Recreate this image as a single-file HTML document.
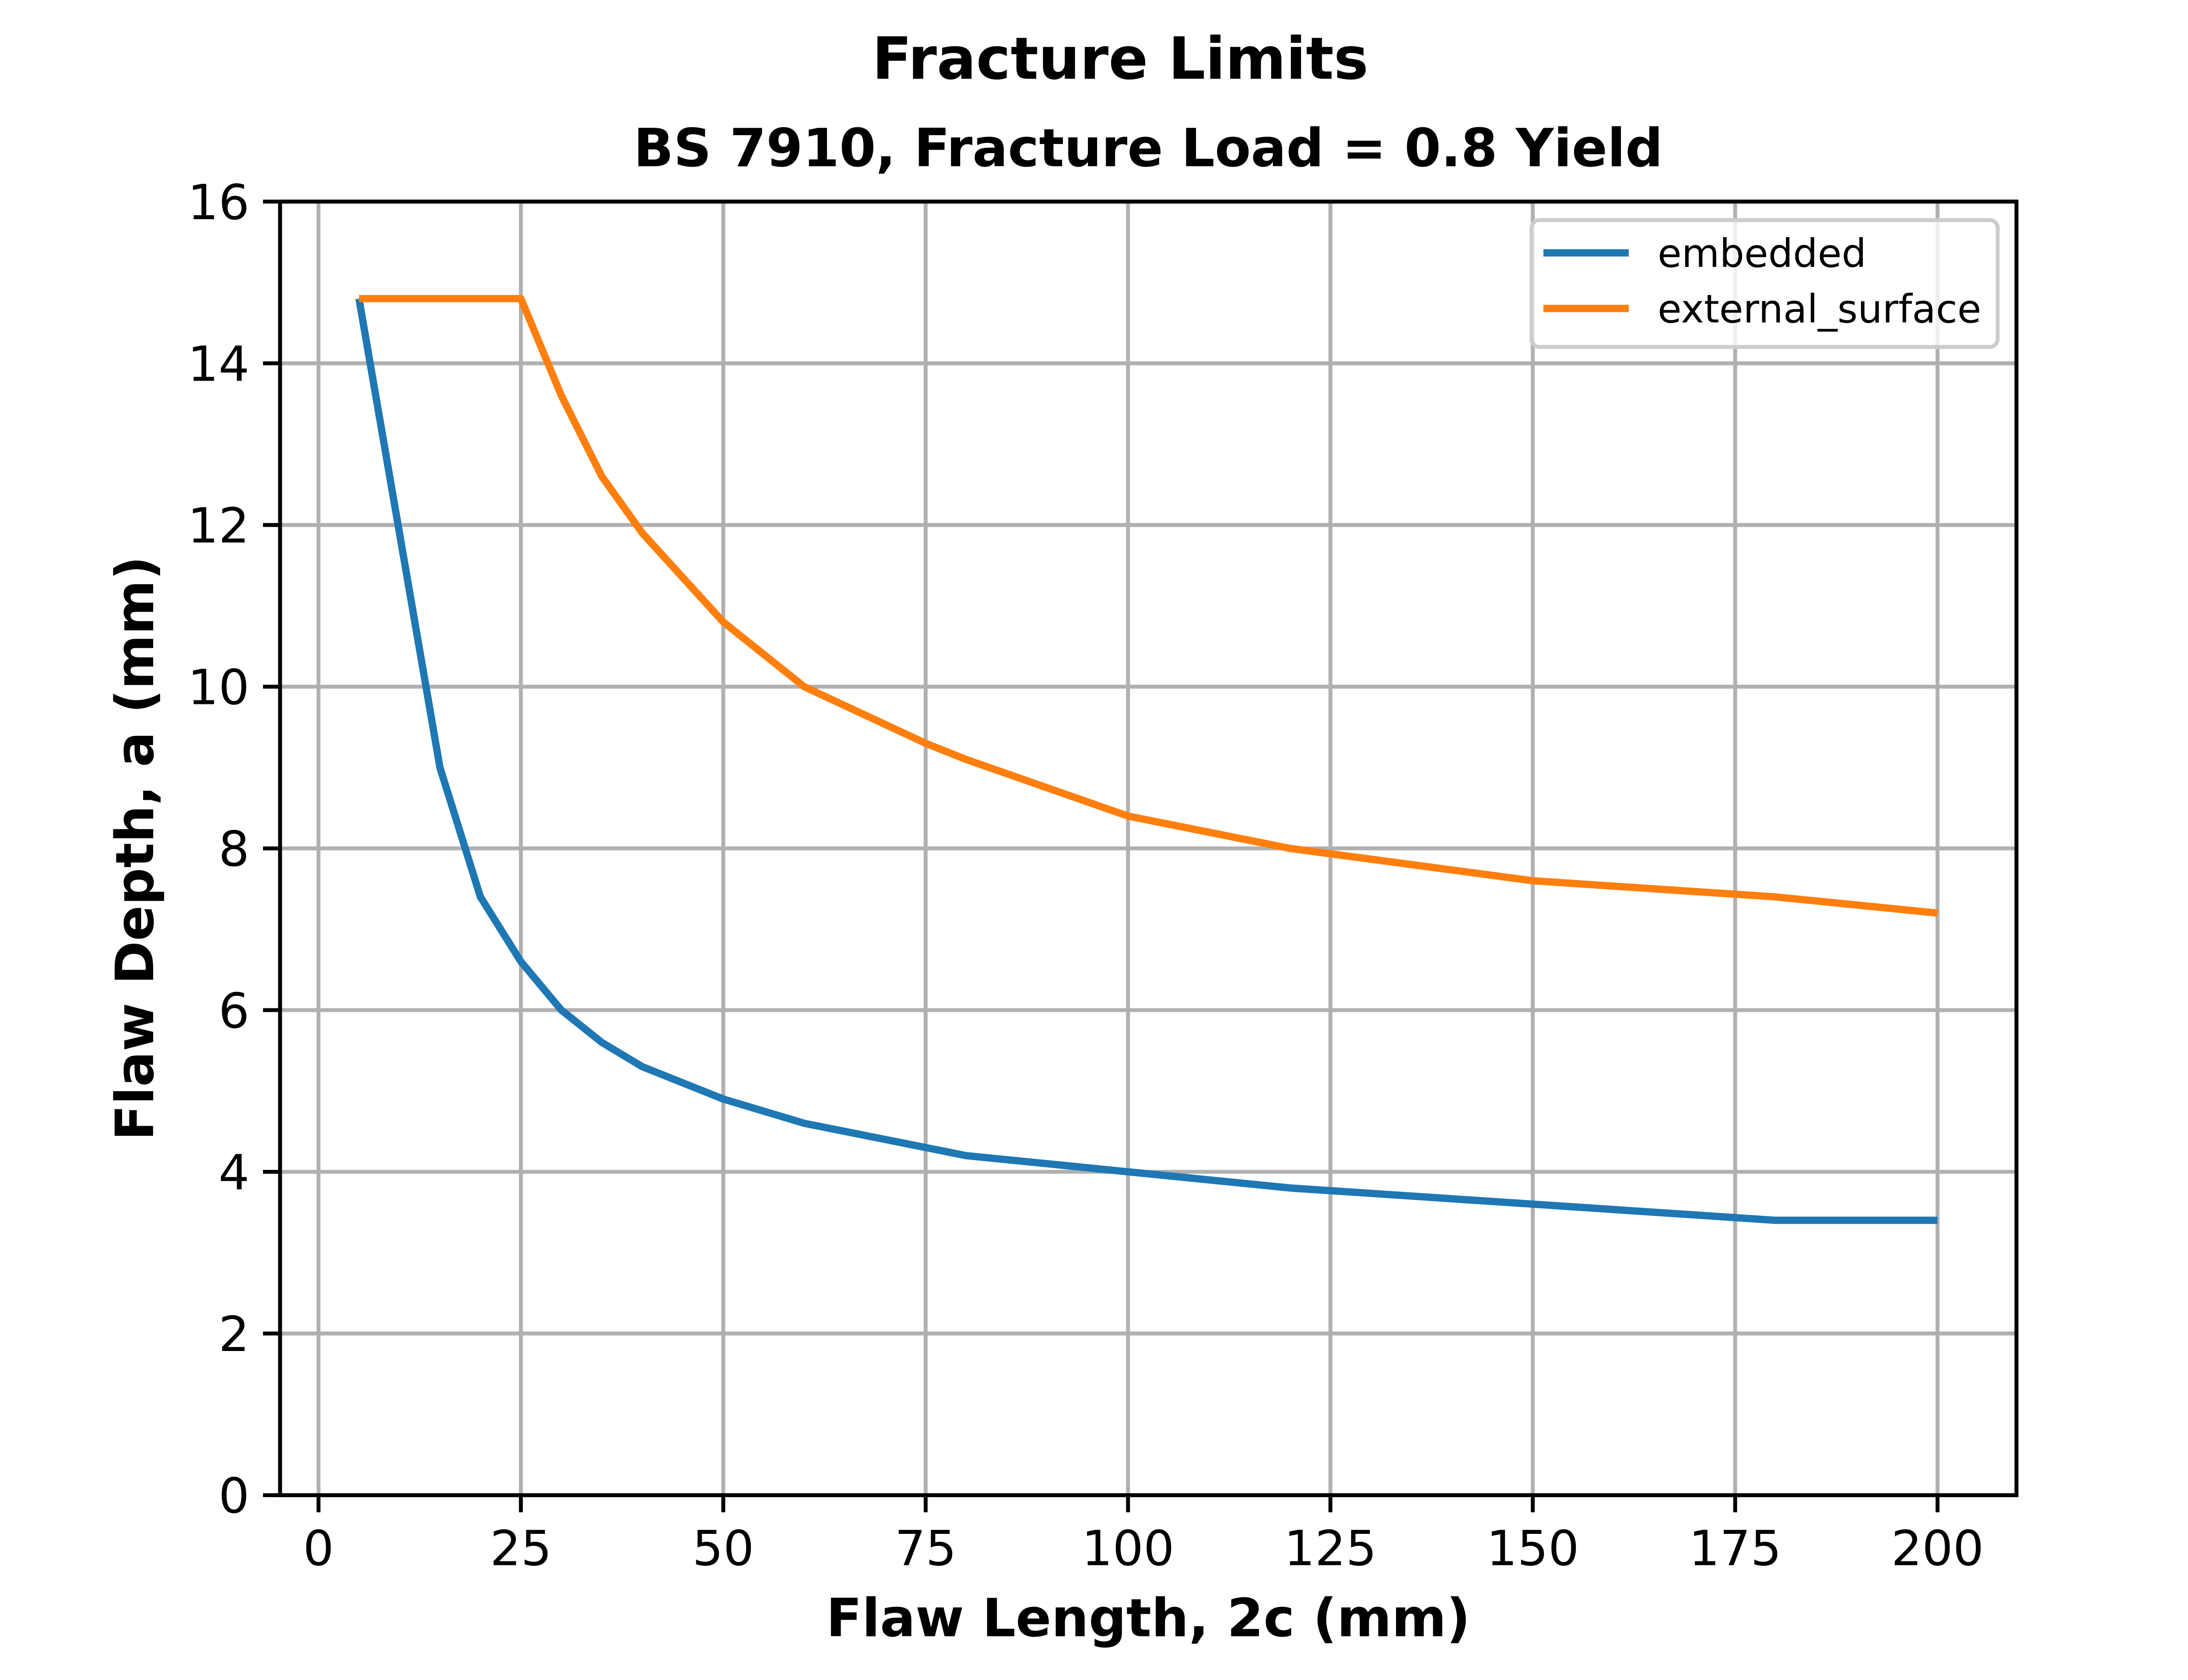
<!DOCTYPE html>
<html><head><meta charset="utf-8">
<style>html,body{margin:0;padding:0;background:#fff}svg{display:block}text{font-family:"DejaVu Sans","Liberation Sans",sans-serif}</style>
</head><body>
<svg id="chart" width="5120" height="3840" viewBox="0 0 5120 3840">
<rect width="5120" height="3840" fill="#fff"/>
<text x="2560" y="180" text-anchor="middle" font-size="133" font-weight="bold">Fracture Limits</text>
<text x="2624" y="380" text-anchor="middle" font-size="120" font-weight="bold">BS 7910, Fracture Load = 0.8 Yield</text>
<g id="grid"></g><g id="series"></g><g id="ticks"></g>
<rect x="640" y="460.8" width="3968" height="2956.8" fill="none" stroke="#000" stroke-width="9"/>
<text x="2624" y="3740" text-anchor="middle" font-size="120" font-weight="bold">Flaw Length, 2c (mm)</text>
<text transform="translate(350,1939) rotate(-90)" text-anchor="middle" font-size="120" font-weight="bold">Flaw Depth, a (mm)</text>
<g>
<rect x="3500" y="503" width="1065" height="290" rx="18" fill="#fff" fill-opacity="0.8" stroke="#ccc" stroke-width="9"/>
<line x1="3527" y1="578" x2="3722" y2="578" stroke="#1f77b4" stroke-width="16.7"/>
<text x="3788" y="610" font-size="89">embedded</text>
<line x1="3527" y1="705" x2="3722" y2="705" stroke="#ff7f0e" stroke-width="16.7"/>
<text x="3788" y="737" font-size="89">external_surface</text>
</g>
</svg>
<script>
const embeddedX = [5,10,15,20,25,30,35,40,50,60,75,80,100,120,150,180,200];
const embeddedY = [14.8,11.9,9.0,7.4,6.6,6.0,5.6,5.3,4.9,4.6,4.3,4.2,4.0,3.8,3.6,3.4,3.4];
const externalX = [5,10,15,20,25,30,35,40,50,60,75,80,100,120,150,180,200];
const externalY = [14.8,14.8,14.8,14.8,14.8,13.6,12.6,11.9,10.8,10.0,9.3,9.1,8.4,8.0,7.6,7.4,7.2];
const xTicks = [0,25,50,75,100,125,150,175,200];
const yTicks = [0,2,4,6,8,10,12,14,16];
const NS="http://www.w3.org/2000/svg";
const L=640,R=4608,T=460.8,B=3417.6,xmin=-4.75,xmax=209.75,ymin=0,ymax=16;
const sx=v=>L+(v-xmin)/(xmax-xmin)*(R-L);
const sy=v=>B-(v-ymin)/(ymax-ymin)*(B-T);
function mk(tag,attrs,parent){const e=document.createElementNS(NS,tag);for(const k in attrs)e.setAttribute(k,attrs[k]);parent.appendChild(e);return e;}
const grid=document.getElementById('grid'),ticks=document.getElementById('ticks'),series=document.getElementById('series');
xTicks.forEach(t=>{const x=sx(t);
 const g=mk('line',{x1:x,x2:x,y1:T,y2:B,stroke:'#b0b0b0','stroke-width':8.9},grid);
 
 
 const tk=mk('line',{x1:x,x2:x,y1:B,y2:B+39,stroke:'#000','stroke-width':8.9},ticks);
 
 
 const tx=mk('text',{x:x,y:B+160,'text-anchor':'middle','font-size':111},ticks);tx.textContent=t;
 
 
});
yTicks.forEach(t=>{const y=sy(t);
 const g=mk('line',{x1:L,x2:R,y1:y,y2:y,stroke:'#b0b0b0','stroke-width':8.9},grid);
 
 
 const tk=mk('line',{x1:L-39,x2:L,y1:y,y2:y,stroke:'#000','stroke-width':8.9},ticks);
 
 
 const tx=mk('text',{x:L-70,y:y+40,'text-anchor':'end','font-size':111},ticks);tx.textContent=t;
 
 
});
function line(xs,ys,color,name){
 const p=mk('polyline',{points:xs.map((x,i)=>sx(x)+','+sy(ys[i])).join(' '),fill:'none',stroke:color,'stroke-width':16.7,'stroke-linejoin':'round','stroke-linecap':'butt'},series);
 
 
}
line(embeddedX,embeddedY,'#1f77b4','embedded-line');
line(externalX,externalY,'#ff7f0e','external-surface-line');
</script>
</body></html>
